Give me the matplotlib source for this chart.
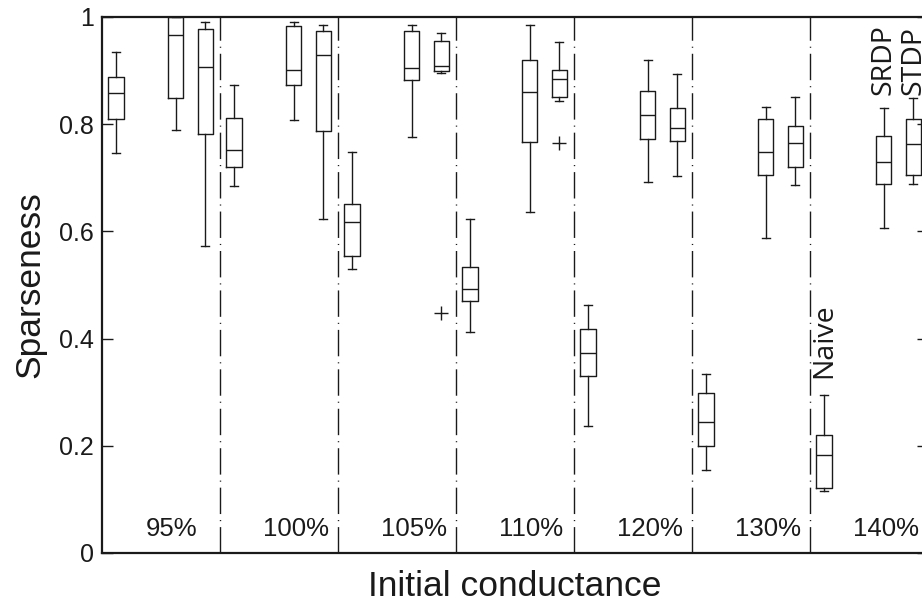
import matplotlib
matplotlib.use("Agg")
import matplotlib.pyplot as plt

# ---------------- data ----------------
groups = ['95%', '100%', '105%', '110%', '120%', '130%', '140%']
series = ['Naive', 'SRDP', 'STDP']

naive_whislo = [0.747, 0.685, 0.530, 0.412, 0.237, 0.154, 0.116]
naive_q1     = [0.810, 0.720, 0.554, 0.470, 0.330, 0.200, 0.121]
naive_med    = [0.858, 0.752, 0.618, 0.493, 0.373, 0.244, 0.183]
naive_q3     = [0.888, 0.812, 0.652, 0.533, 0.417, 0.299, 0.221]
naive_whishi = [0.935, 0.874, 0.748, 0.624, 0.463, 0.334, 0.295]

srdp_whislo = [0.790, 0.807, 0.776, 0.636, 0.693, 0.587, 0.606]
srdp_q1     = [0.848, 0.873, 0.882, 0.766, 0.772, 0.705, 0.688]
srdp_med    = [0.966, 0.902, 0.905, 0.861, 0.818, 0.749, 0.729]
srdp_q3     = [1.000, 0.984, 0.973, 0.920, 0.862, 0.810, 0.778]
srdp_whishi = [1.000, 0.990, 0.986, 0.986, 0.920, 0.832, 0.831]

stdp_whislo = [0.573, 0.623, 0.896, 0.844, 0.704, 0.687, 0.688]
stdp_q1     = [0.781, 0.787, 0.899, 0.851, 0.768, 0.721, 0.706]
stdp_med    = [0.907, 0.929, 0.909, 0.885, 0.793, 0.764, 0.763]
stdp_q3     = [0.978, 0.974, 0.955, 0.901, 0.831, 0.797, 0.810]
stdp_whishi = [0.990, 0.985, 0.971, 0.953, 0.894, 0.851, 0.848]

naive_fliers = [[], [], [], [], [], [], []]
srdp_fliers  = [[], [], [], [], [], [], []]
stdp_fliers  = [[], [], [0.448], [0.764], [], [], []]

yticks = [0, 0.2, 0.4, 0.6, 0.8, 1]
ytick_labels = ['0', '0.2', '0.4', '0.6', '0.8', '1']

label_heights = [0.326, 0.855, 0.855]   # where the series names sit in the last group

# ---------------- layout ----------------
offsets = [0.12, 0.625, 0.875]
box_w = 0.13
ink = '#1a1a1a'

fig = plt.figure(figsize=(9.22, 6.03), dpi=100)
ax = fig.add_axes([102 / 922, 50 / 603, 826 / 922, 536 / 603])

all_series = [
    (naive_whislo, naive_q1, naive_med, naive_q3, naive_whishi, naive_fliers),
    (srdp_whislo, srdp_q1, srdp_med, srdp_q3, srdp_whishi, srdp_fliers),
    (stdp_whislo, stdp_q1, stdp_med, stdp_q3, stdp_whishi, stdp_fliers),
]

lp = dict(color=ink, linewidth=1.0)
for si, (wlo, q1, med, q3, whi, fl) in enumerate(all_series):
    stats = []
    pos = []
    for g in range(len(groups)):
        stats.append(dict(whislo=wlo[g], q1=q1[g], med=med[g], q3=q3[g],
                          whishi=whi[g], fliers=fl[g]))
        pos.append(g + offsets[si])
    ax.bxp(stats, positions=pos, widths=box_w, showfliers=True,
           boxprops=lp, whiskerprops=lp, capprops=lp, medianprops=lp,
           capwidths=box_w * 0.5,
           flierprops=dict(marker='+', markersize=10, markeredgecolor=ink,
                           markeredgewidth=1.0, linestyle='none'),
           manage_ticks=False)

for g in range(1, len(groups)):
    ax.axvline(g, color=ink, linewidth=1.0, linestyle=(0, (19, 4.3, 0.8, 4.3)))

for g, name in enumerate(groups):
    ax.text(g + 0.368, 0.0317, name, ha='left', va='baseline', fontsize=18.5,
            family='Liberation Sans', color=ink)

last = len(groups) - 1
for si, name in enumerate(series):
    ax.text(last + offsets[si], label_heights[si], name, rotation=90,
            ha='center', va='bottom', fontsize=20.5, family='Open Sans', color=ink)

ax.set_xlim(0, len(groups))
ax.set_ylim(0, 1)
ax.set_xticks([])
ax.set_yticks(yticks)
ax.set_yticklabels(ytick_labels, family='Liberation Sans', fontsize=18)
ax.tick_params(axis='y', direction='in', length=8, width=1.0, right=True,
               pad=6, colors=ink)
for s in ax.spines.values():
    s.set_linewidth(1.6)
    s.set_color(ink)

ax.set_xlabel('Initial conductance', family='Liberation Sans', fontsize=25.5, color=ink)
ax.xaxis.set_label_coords(0.5, -0.032)
ax.set_ylabel('Sparseness', family='Liberation Sans', fontsize=25.5, color=ink)
ax.yaxis.set_label_coords(-0.067, 0.5)

fig.savefig('out.png', dpi=100)
